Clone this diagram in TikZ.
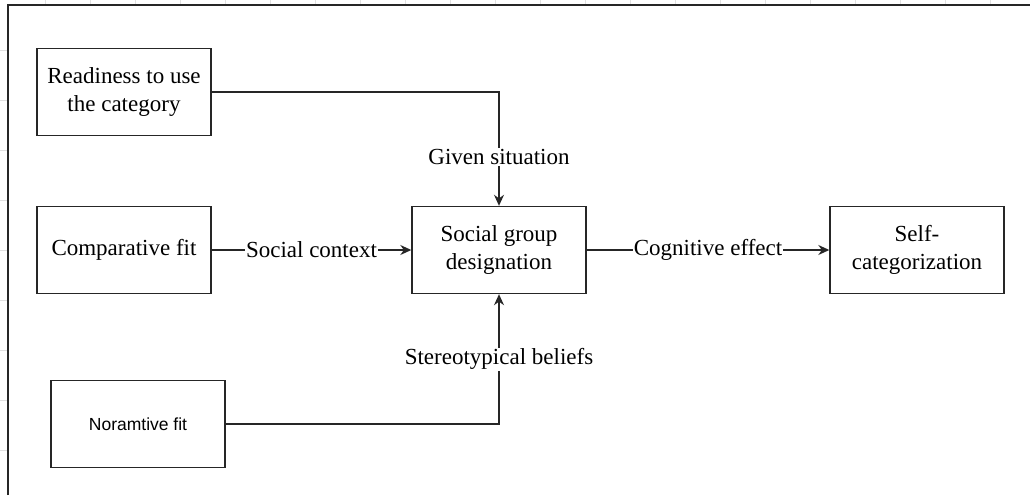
\documentclass[tikz,border=0pt]{standalone}
\usepackage{fontspec}
\setmainfont{Liberation Serif}
\newfontfamily\arialfont{Liberation Sans}
\usetikzlibrary{arrows.meta}
\begin{document}
\begin{tikzpicture}[x=1pt,y=-1pt,
  box/.style={draw=black!85, line width=1.4pt, minimum width=174pt, minimum height=87pt,
    inner sep=0pt, align=center, font=\fontsize{23}{28}\selectfont},
  link/.style={draw=black!85, line width=1.4pt},
  arr/.style={link, -{Stealth[length=11pt,width=10pt]}},
  lbl/.style={fill=white, inner sep=1pt, font=\fontsize{23}{28}\selectfont}]
  % page area
  \useasboundingbox (0,0) rectangle (1030,495);
  \fill[white] (0,0) rectangle (1030,495);
  % faint grid outside the sheet
  \foreach \gx in {45,90,...,1030} \draw[black!12, line width=0.6pt] (\gx,0) -- (\gx,4);
  \foreach \gy in {50,100,...,495} \draw[black!12, line width=0.6pt] (0,\gy) -- (7,\gy);
  % sheet border
  \draw[black!85, line width=1.6pt] (8,495) -- (8,5) -- (1030,5);

  % boxes
  \node[box] (ready) at (124,92) {Readiness to use\\the category};
  \node[box] (comp)  at (124,250) {Comparative fit};
  \node[box] (sgd)   at (499,250) {Social group\\designation};
  \node[box] (self)  at (917,250) {Self-\\categorization};
  \node[box, font=\arialfont\fontsize{17.5}{21}\selectfont] (norm) at (138,424) {Noramtive fit};

  % connectors
  \coordinate (c1) at (sgd.north |- ready.east);
  \coordinate (c2) at (sgd.south |- norm.east);
  \draw[arr] (ready.east) -- (c1) -- (sgd.north)
    node[lbl, pos=0.57] (gs) {Given situation};
  \draw[arr] (comp.east) -- (sgd.west)
    node[lbl, pos=0.5] (sc) {Social context};
  \draw[arr] (sgd.east) -- (self.west)
    node[lbl, pos=0.5] (ce) {Cognitive effect};
  \draw[arr] (norm.east) -- (c2) -- (sgd.south)
    node[lbl, pos=0.5] (sb) {Stereotypical beliefs};
\end{tikzpicture}
\end{document}
